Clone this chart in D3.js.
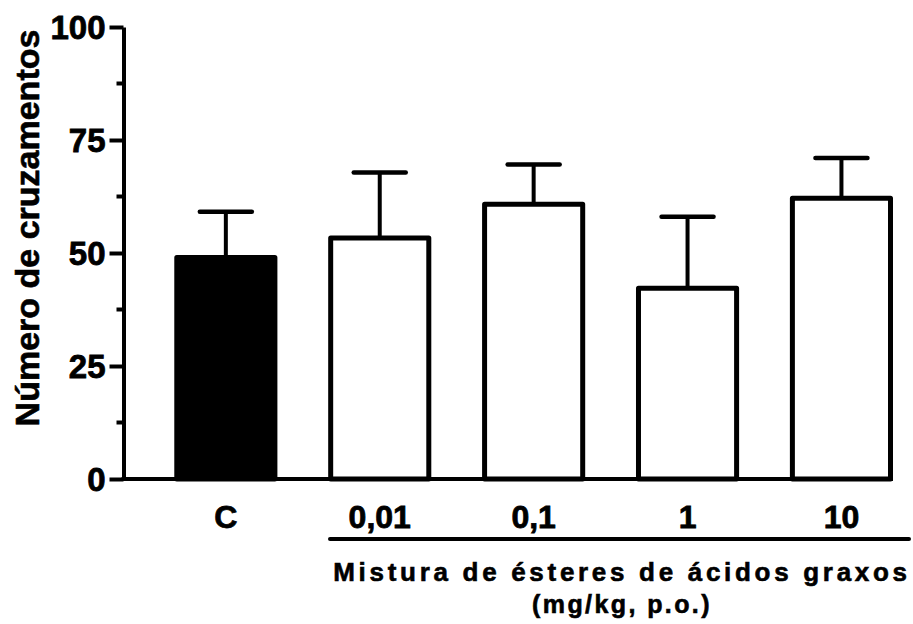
<!DOCTYPE html>
<html>
<head>
<meta charset="utf-8">
<script src="https://cdn.jsdelivr.net/npm/d3@7"></script>
<style>
  body { margin: 0; background: #fff; }
  text { font-family: "Liberation Sans", Arial, sans-serif; font-weight: bold; fill: #000; stroke: #000; stroke-width: 0.6px; }
</style>
</head>
<body>
<svg id="chart" width="913" height="624"></svg>
<script>
// data
var groups = ['C', '0,01', '0,1', '1', '10'];
var means = [49.0, 53.3, 60.8, 42.2, 62.1];
var sems = [10.1, 14.5, 8.8, 15.8, 8.9];
var fills = ['#000', '#fff', '#fff', '#fff', '#fff'];
var yTicks = [0, 25, 50, 75, 100];
var yMinorTicks = [12.5, 37.5, 62.5, 87.5];

var svg = d3.select('#chart');
var plotLeft = 123.5, plotRight = 893, plotTop = 27, plotBottom = 479;

var x = d3.scaleBand()
    .domain(groups)
    .range([plotLeft, plotRight])
    .paddingInner(0.33)
    .paddingOuter(0.165)
    .align(1);

var y = d3.scaleLinear()
    .domain([0, 100])
    .range([plotBottom, plotTop]);

var g = svg.append('g');

// bars
g.selectAll('rect.bar')
    .data(groups)
    .enter().append('rect')
    .attr('class', 'bar')
    .attr('x', function (d) { return x(d) + 2.5; })
    .attr('width', x.bandwidth() - 5)
    .attr('y', function (d, i) { return y(means[i]); })
    .attr('height', function (d, i) { return y(0) - y(means[i]); })
    .style('fill', function (d, i) { return fills[i]; })
    .style('stroke', '#000')
    .style('stroke-width', 5)
    .style('stroke-linejoin', 'round');

// error bars (upper only)
var capHalf = 26;
groups.forEach(function (d, i) {
    var cx = x(d) + x.bandwidth() / 2;
    g.append('line')
        .attr('x1', cx).attr('x2', cx)
        .attr('y1', y(means[i]))
        .attr('y2', y(means[i] + sems[i]))
        .style('stroke', '#000').style('stroke-width', 4);
    g.append('line')
        .attr('x1', cx - capHalf).attr('x2', cx + capHalf)
        .attr('y1', y(means[i] + sems[i]))
        .attr('y2', y(means[i] + sems[i]))
        .style('stroke', '#000').style('stroke-width', 4.5)
        .style('stroke-linecap', 'round');
});

// y axis
var yAxis = g.append('g')
    .attr('transform', 'translate(' + plotLeft + ',0)')
    .call(d3.axisLeft(y).tickValues(yTicks).tickSize(14).tickSizeOuter(0).tickPadding(4));
yAxis.selectAll('.tick line').style('stroke-width', 4);
yAxis.selectAll('.tick text')
    .style('font-size', '33px')
    .style('font-family', '"Liberation Sans", Arial, sans-serif')
    .style('font-weight', 'bold')
    .style('stroke', '#000')
    .style('stroke-width', '0.8px')
    .attr('dy', '0.36em');
yAxis.select('.domain').style('stroke-width', 4);

g.selectAll('line.minor')
    .data(yMinorTicks)
    .enter().append('line')
    .attr('class', 'minor')
    .attr('x1', plotLeft - 7).attr('x2', plotLeft)
    .attr('y1', function (d) { return y(d); })
    .attr('y2', function (d) { return y(d); })
    .style('stroke', '#000').style('stroke-width', 4);

// x axis line
g.append('line')
    .attr('x1', plotLeft - 2).attr('x2', plotRight)
    .attr('y1', plotBottom).attr('y2', plotBottom)
    .style('stroke', '#000').style('stroke-width', 4);

// x labels
g.selectAll('text.xlab')
    .data(groups)
    .enter().append('text')
    .attr('class', 'xlab')
    .attr('x', function (d) { return x(d) + x.bandwidth() / 2; })
    .attr('y', 528)
    .style('text-anchor', 'middle')
    .style('font-size', '32px')
    .style('stroke-width', '0.8px')
    .text(function (d) { return d; });

// bracket under treatment groups
g.append('line')
    .attr('x1', 330).attr('x2', 909)
    .attr('y1', 539).attr('y2', 539)
    .style('stroke', '#000').style('stroke-width', 4)
    .style('stroke-linecap', 'round');

g.append('text')
    .attr('x', 622).attr('y', 581)
    .style('text-anchor', 'middle')
    .style('font-size', '26px')
    .style('letter-spacing', '3.7px')
    .text('Mistura de ésteres de ácidos graxos');

g.append('text')
    .attr('x', 622).attr('y', 613)
    .style('text-anchor', 'middle')
    .style('font-size', '25px')
    .style('letter-spacing', '2.4px')
    .text('(mg/kg, p.o.)');

// y title
g.append('text')
    .attr('transform', 'translate(39,228) rotate(-90)')
    .style('text-anchor', 'middle')
    .style('font-size', '34px')
    .text('Número de cruzamentos');
</script>
</body>
</html>
